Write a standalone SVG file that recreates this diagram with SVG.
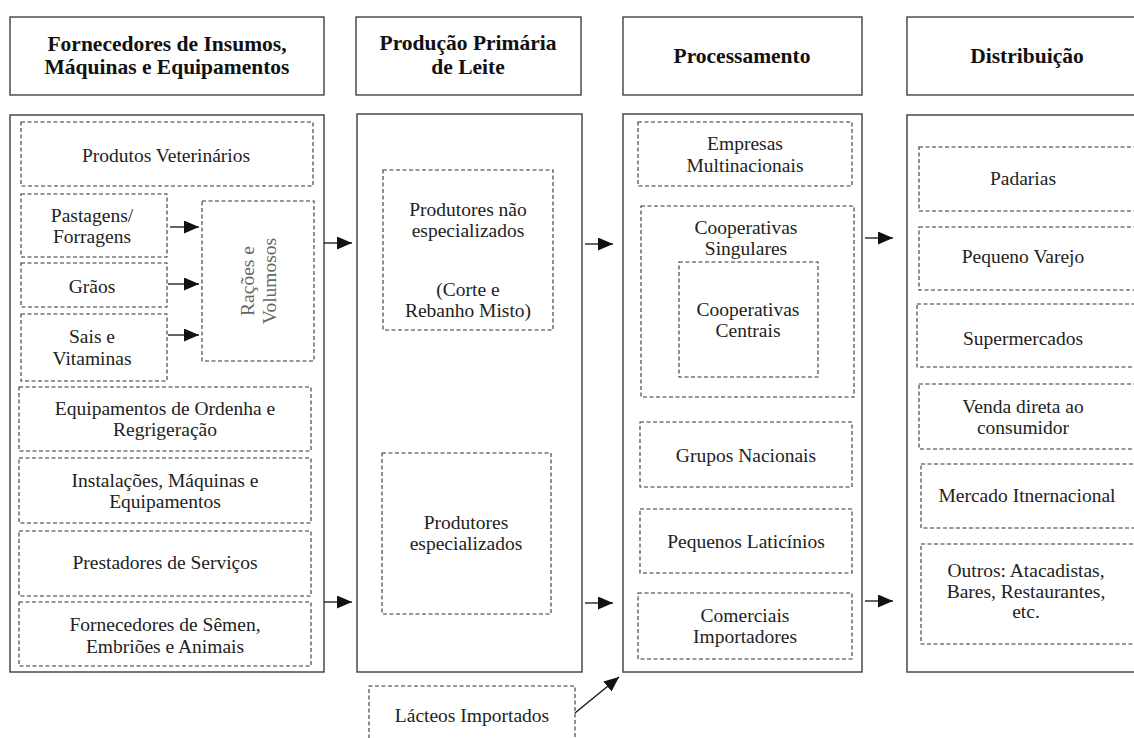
<svg xmlns="http://www.w3.org/2000/svg" width="1134" height="738" viewBox="0 0 1134 738" font-family="Liberation Serif, DejaVu Serif, serif">
<style>
.bg{fill:#fff}
.main{fill:#fff;stroke:#4a4a4a;stroke-width:1.5}
.hdr{fill:#fff;stroke:#333;stroke-width:1.3}
.dash{fill:none;stroke:#333;stroke-width:1.1;stroke-dasharray:4 2.5}
.h{font-family:'Liberation Serif','DejaVu Serif',serif;font-weight:bold;font-size:21.5px;fill:#111;text-anchor:middle}
.t{font-family:'Liberation Serif','DejaVu Serif',serif;font-size:19.5px;fill:#222;text-anchor:middle}
.g{fill:#666}
.c{stroke:#111;stroke-width:1.3;fill:none}
</style>
<defs>
<marker id="ah" markerUnits="userSpaceOnUse" markerWidth="16" markerHeight="13" refX="15" refY="6.5" orient="auto">
<path d="M0,0 L15,6.5 L0,13 z" fill="#111"/>
</marker>
</defs>
<rect class="bg" x="0" y="0" width="1134" height="738"/>

<g id="hdr-fornecedores">
<rect class="hdr" x="10" y="17" width="314" height="78"/>
<text class="h" x="167" y="51">Fornecedores de Insumos,</text>
<text class="h" x="167" y="74">Máquinas e Equipamentos</text>
</g>
<g id="hdr-producao">
<rect class="hdr" x="356" y="17" width="225" height="78"/>
<text class="h" x="468" y="50">Produção Primária</text>
<text class="h" x="468" y="74">de Leite</text>
</g>
<g id="hdr-processamento">
<rect class="hdr" x="623" y="17" width="239" height="78"/>
<text class="h" x="742" y="63">Processamento</text>
</g>
<g id="hdr-distribuicao">
<rect class="hdr" x="907" y="17" width="240" height="78"/>
<text class="h" x="1027" y="63">Distribuição</text>
</g>

<g id="col-fornecedores">
<rect class="main" x="10" y="115" width="314" height="557"/>
<g id="produtos-veterinarios">
<rect class="dash" x="21" y="122" width="292" height="64"/>
<text class="t" x="166" y="162">Produtos Veterinários</text>
</g>
<g id="pastagens">
<rect class="dash" x="21" y="194" width="146" height="63"/>
<text class="t" x="92" y="222">Pastagens/</text>
<text class="t" x="92" y="243">Forragens</text>
</g>
<g id="graos">
<rect class="dash" x="21" y="263" width="146" height="44"/>
<text class="t" x="92" y="293">Grãos</text>
</g>
<g id="sais">
<rect class="dash" x="21" y="314" width="146" height="67"/>
<text class="t" x="92" y="343">Sais e</text>
<text class="t" x="92" y="365">Vitaminas</text>
</g>
<g id="racoes">
<rect class="dash" x="202" y="201" width="112" height="160"/>
<text class="t g" transform="translate(254,281) rotate(-90)" x="0" y="0">Rações e</text>
<text class="t g" transform="translate(276,281) rotate(-90)" x="0" y="0">Volumosos</text>
</g>
<g id="equip-ordenha">
<rect class="dash" x="19" y="387" width="292" height="64"/>
<text class="t" x="165" y="415">Equipamentos de Ordenha e</text>
<text class="t" x="165" y="436">Regrigeração</text>
</g>
<g id="instalacoes">
<rect class="dash" x="19" y="458" width="292" height="65"/>
<text class="t" x="165" y="487">Instalações, Máquinas e</text>
<text class="t" x="165" y="508">Equipamentos</text>
</g>
<g id="prestadores">
<rect class="dash" x="19" y="531" width="292" height="65"/>
<text class="t" x="165" y="569">Prestadores de Serviços</text>
</g>
<g id="semen">
<rect class="dash" x="19" y="602" width="292" height="64"/>
<text class="t" x="165" y="631">Fornecedores de Sêmen,</text>
<text class="t" x="165" y="653">Embriões e Animais</text>
</g>
</g>

<g id="col-producao">
<rect class="main" x="357" y="114" width="225" height="558"/>
<g id="nao-especializados">
<rect class="dash" x="383" y="170" width="170" height="160"/>
<text class="t" x="468" y="216">Produtores não</text>
<text class="t" x="468" y="237">especializados</text>
<text class="t" x="468" y="296">(Corte e</text>
<text class="t" x="468" y="317">Rebanho Misto)</text>
</g>
<g id="especializados">
<rect class="dash" x="382" y="453" width="169" height="161"/>
<text class="t" x="466" y="529">Produtores</text>
<text class="t" x="466" y="550">especializados</text>
</g>
</g>

<g id="lacteos-importados">
<path class="dash" d="M369,745 V686 H575 V745"/>
<text class="t" x="472" y="722">Lácteos Importados</text>
</g>

<g id="col-processamento">
<rect class="main" x="623" y="114" width="239" height="558"/>
<g id="multinacionais">
<rect class="dash" x="638" y="122" width="214" height="64"/>
<text class="t" x="745" y="150">Empresas</text>
<text class="t" x="745" y="172">Multinacionais</text>
</g>
<g id="coop-singulares">
<rect class="dash" x="641" y="206" width="213" height="191"/>
<text class="t" x="746" y="234">Cooperativas</text>
<text class="t" x="746" y="255">Singulares</text>
</g>
<g id="coop-centrais">
<rect class="dash" x="679" y="262" width="139" height="115"/>
<text class="t" x="748" y="316">Cooperativas</text>
<text class="t" x="748" y="337">Centrais</text>
</g>
<g id="grupos-nacionais">
<rect class="dash" x="640" y="422" width="212" height="65"/>
<text class="t" x="746" y="462">Grupos Nacionais</text>
</g>
<g id="pequenos-laticinios">
<rect class="dash" x="640" y="509" width="212" height="64"/>
<text class="t" x="746" y="548">Pequenos Laticínios</text>
</g>
<g id="comerciais">
<rect class="dash" x="638" y="593" width="214" height="66"/>
<text class="t" x="745" y="622">Comerciais</text>
<text class="t" x="745" y="643">Importadores</text>
</g>
</g>

<g id="col-distribuicao">
<rect class="main" x="907" y="115" width="250" height="557"/>
<g id="padarias">
<rect class="dash" x="919" y="147" width="230" height="64"/>
<text class="t" x="1023" y="185">Padarias</text>
</g>
<g id="pequeno-varejo">
<rect class="dash" x="919" y="227" width="230" height="63"/>
<text class="t" x="1023" y="263">Pequeno Varejo</text>
</g>
<g id="supermercados">
<rect class="dash" x="917" y="304" width="232" height="63"/>
<text class="t" x="1023" y="345">Supermercados</text>
</g>
<g id="venda-direta">
<rect class="dash" x="919" y="384" width="230" height="65"/>
<text class="t" x="1023" y="413">Venda  direta ao</text>
<text class="t" x="1023" y="434">consumidor</text>
</g>
<g id="mercado-internacional">
<rect class="dash" x="921" y="464" width="228" height="64"/>
<text class="t" x="1027" y="502">Mercado Itnernacional</text>
</g>
<g id="outros">
<rect class="dash" x="921" y="544" width="228" height="100"/>
<text class="t" x="1026" y="577">Outros: Atacadistas,</text>
<text class="t" x="1026" y="598">Bares, Restaurantes,</text>
<text class="t" x="1026" y="618">etc.</text>
</g>
</g>

<g id="connectors">
<line class="c" x1="170" y1="227" x2="199" y2="227" marker-end="url(#ah)"/>
<line class="c" x1="168" y1="284" x2="199" y2="284" marker-end="url(#ah)"/>
<line class="c" x1="168" y1="335" x2="199" y2="335" marker-end="url(#ah)"/>
<line class="c" x1="324" y1="243" x2="352" y2="243" marker-end="url(#ah)"/>
<line class="c" x1="324" y1="602" x2="352" y2="602" marker-end="url(#ah)"/>
<line class="c" x1="585" y1="244" x2="613" y2="244" marker-end="url(#ah)"/>
<line class="c" x1="585" y1="603" x2="613" y2="603" marker-end="url(#ah)"/>
<line class="c" x1="865" y1="238" x2="893" y2="238" marker-end="url(#ah)"/>
<line class="c" x1="865" y1="601" x2="893" y2="601" marker-end="url(#ah)"/>
<line class="c" x1="575" y1="713" x2="619" y2="677" marker-end="url(#ah)"/>
</g>
</svg>
